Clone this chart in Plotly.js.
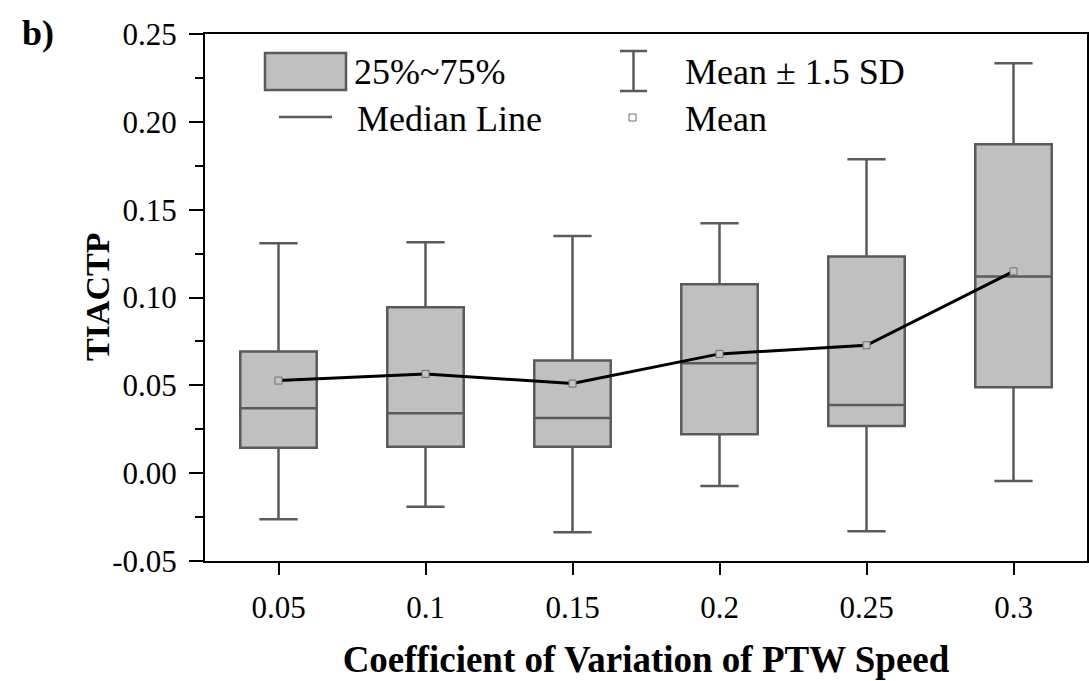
<!DOCTYPE html>
<html>
<head>
<meta charset="utf-8">
<script src="https://cdn.plot.ly/plotly-3.0.1.min.js"></script>
<style>
  html, body { margin: 0; padding: 0; background: #ffffff; }
  #chart { width: 1089px; height: 681px; }
</style>
</head>
<body>
<div id="chart"></div>
<script>
// Coefficient of variation of PTW speed (category labels)
const cvSpeed = ['0.05', '0.1', '0.15', '0.2', '0.25', '0.3'];

// TIACTP distribution per category
const q1Values     = [0.0145, 0.0151, 0.0151, 0.0221, 0.0269, 0.0489];
const medianValues = [0.0369, 0.0341, 0.0314, 0.0626, 0.0388, 0.1119];
const q3Values     = [0.0692, 0.0944, 0.0641, 0.1075, 0.1233, 0.1872];
const meanValues   = [0.0527, 0.0565, 0.0510, 0.0679, 0.0728, 0.1149];
// whisker ends: mean - 1.5 SD and mean + 1.5 SD
const lowerValues  = [-0.0263, -0.0191, -0.0337, -0.0073, -0.0331, -0.0044];
const upperValues  = [0.1309, 0.1314, 0.1350, 0.1423, 0.1787, 0.2333];

// y axis ticks
const yTickValues = [-0.05, 0, 0.05, 0.10, 0.15, 0.20, 0.25];
const yTickLabels = ['-0.05', '0.00', '0.05', '0.10', '0.15', '0.20', '0.25'];

const legendLabels = ['25%~75%', 'Median Line', 'Mean \u00B1 1.5 SD', 'Mean'];

const SERIF = 'Liberation Serif, Times New Roman, Times, serif';
const EDGE = '#5a5a5a';
const FILL = '#c0c0c0';

const boxTrace = {
  type: 'box',
  x: cvSpeed,
  q1: q1Values,
  median: medianValues,
  q3: q3Values,
  lowerfence: lowerValues,
  upperfence: upperValues,
  width: 0.52,
  whiskerwidth: 0.5,
  boxpoints: false,
  fillcolor: FILL,
  line: { color: EDGE, width: 2.5 },
  showlegend: false,
  hoverinfo: 'skip'
};

const meanTrace = {
  type: 'scatter',
  mode: 'lines+markers',
  x: cvSpeed,
  y: meanValues,
  line: { color: '#000000', width: 3 },
  marker: { symbol: 'square', size: 7, color: '#c4c4c4', line: { color: '#6e6e6e', width: 1 } },
  showlegend: false,
  hoverinfo: 'skip'
};

// plot area in pixels, used to place the hand-built legend in paper units
const L = 205, R = 2, T = 34, B = 120, W = 1089, H = 681;
const pw = W - L - R, ph = H - T - B;
const px = v => (v - L) / pw;
const py = v => (H - B - v) / ph;

const shapes = [
  // box swatch
  { type: 'rect', xref: 'paper', yref: 'paper', x0: px(265), x1: px(346), y0: py(90), y1: py(53),
    fillcolor: FILL, line: { color: EDGE, width: 2.5 } },
  // median swatch
  { type: 'line', xref: 'paper', yref: 'paper', x0: px(279), x1: px(332), y0: py(117), y1: py(117),
    line: { color: EDGE, width: 2.5 } },
  // whisker swatch
  { type: 'line', xref: 'paper', yref: 'paper', x0: px(633.5), x1: px(633.5), y0: py(91), y1: py(51),
    line: { color: EDGE, width: 2.5 } },
  { type: 'line', xref: 'paper', yref: 'paper', x0: px(620), x1: px(647), y0: py(51), y1: py(51),
    line: { color: EDGE, width: 2.5 } },
  { type: 'line', xref: 'paper', yref: 'paper', x0: px(620), x1: px(647), y0: py(91), y1: py(91),
    line: { color: EDGE, width: 2.5 } },
  // mean swatch
  { type: 'rect', xref: 'paper', yref: 'paper', x0: px(629), x1: px(636), y0: py(121), y1: py(114),
    fillcolor: '#ffffff', line: { color: '#6e6e6e', width: 1 } }
];

const legendFont = { family: SERIF, size: 36, color: '#000000' };
const annotations = [
  { xref: 'paper', yref: 'paper', x: px(352), y: py(72), xanchor: 'left', yanchor: 'middle',
    text: legendLabels[0], showarrow: false, font: legendFont },
  { xref: 'paper', yref: 'paper', x: px(355), y: py(119), xanchor: 'left', yanchor: 'middle',
    text: legendLabels[1], showarrow: false, font: legendFont },
  { xref: 'paper', yref: 'paper', x: px(683), y: py(72), xanchor: 'left', yanchor: 'middle',
    text: legendLabels[2], showarrow: false, font: legendFont },
  { xref: 'paper', yref: 'paper', x: px(683), y: py(119), xanchor: 'left', yanchor: 'middle',
    text: legendLabels[3], showarrow: false, font: legendFont },
  // y axis title
  { xref: 'paper', yref: 'paper', x: px(97), y: py(297), xanchor: 'center', yanchor: 'middle',
    textangle: -90, text: '<b>TIACTP</b>', showarrow: false,
    font: { family: SERIF, size: 34, color: '#000000' } },
  // panel letter
  { xref: 'paper', yref: 'paper', x: px(20), y: py(33), xanchor: 'left', yanchor: 'middle',
    text: '<b>b)</b>', showarrow: false, font: { family: SERIF, size: 36, color: '#000000' } }
];

const layout = {
  width: W,
  height: H,
  margin: { l: L, r: R, t: T, b: B, pad: 0 },
  paper_bgcolor: '#ffffff',
  plot_bgcolor: '#ffffff',
  showlegend: false,
  font: { family: SERIF, color: '#000000' },
  xaxis: {
    type: 'category',
    range: [-0.5, 5.5],
    showgrid: false,
    zeroline: false,
    showline: true,
    linecolor: '#000000',
    linewidth: 2,
    mirror: true,
    ticks: 'outside',
    ticklen: 12,
    tickwidth: 2,
    tickcolor: '#000000',
    ticklabelstandoff: 6,
    tickfont: { family: SERIF, size: 31, color: '#000000' },
    title: {
      text: '<b>Coefficient of Variation of PTW Speed</b>',
      font: { family: SERIF, size: 37, color: '#000000' },
      standoff: 22
    }
  },
  yaxis: {
    range: [-0.05, 0.25],
    tickmode: 'array',
    tickvals: yTickValues,
    ticktext: yTickLabels,
    showgrid: false,
    zeroline: false,
    showline: true,
    linecolor: '#000000',
    linewidth: 2,
    mirror: true,
    ticks: 'outside',
    ticklen: 14,
    tickwidth: 2,
    tickcolor: '#000000',
    ticklabelstandoff: 6,
    tickfont: { family: SERIF, size: 31, color: '#000000' },
    minor: { dtick: 0.025, tick0: 0, ticks: 'outside', ticklen: 8, tickwidth: 2, tickcolor: '#000000', showgrid: false }
  },
  shapes: shapes,
  annotations: annotations
};

Plotly.newPlot('chart', [boxTrace, meanTrace], layout, { displayModeBar: false, staticPlot: true });
</script>
</body>
</html>
